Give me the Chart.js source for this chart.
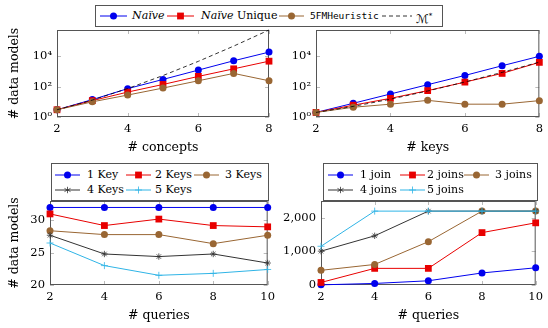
<!DOCTYPE html>
<html>
<head>
<meta charset="utf-8">
<script src="https://cdn.jsdelivr.net/npm/chart.js@4.4.1/dist/chart.umd.min.js"></script>
<style>
  body { margin: 0; width: 548px; height: 328px; position: relative; overflow: hidden; background: #fff; font-family: "DejaVu Serif", serif; }
  canvas { position: absolute; }
  .box { position: absolute; border: 1px solid #555; background: #fff; box-sizing: border-box; z-index: 2; }
  .lbl { position: absolute; font-size: 11px; line-height: 12px; height: 12px; white-space: nowrap; color: #000; z-index: 3; }
  .ico { position: absolute; z-index: 3; }
  .tt { font-family: "DejaVu Sans Mono", monospace; font-size: 9.5px; }
  .cal { font-family: "DejaVu Sans", sans-serif; font-size: 12px; }
</style>
</head>
<body>
<canvas id="concepts" width="280" height="160" style="left:0;top:0"></canvas>
<canvas id="keys" width="268" height="160" style="left:280px;top:0"></canvas>
<canvas id="qkeys" width="280" height="168" style="left:0;top:160px"></canvas>
<canvas id="qjoins" width="268" height="168" style="left:280px;top:160px"></canvas>
<script>
// top row: # data models vs # concepts / # keys (log scale)
const conceptCounts = [2, 3, 4, 5, 6, 7, 8];
const naiveConcepts = [3, 14, 74, 300, 1240, 5100, 19000];
const naiveUniqueConcepts = [3, 12, 44, 140, 475, 1500, 4800];
const heuristicConcepts = [3, 10, 28, 81, 245, 750, 245];
const mStarConcepts = [3, 13, 75, 541, 4683, 47293, 545835];

const keyCounts = [2, 3, 4, 5, 6, 7, 8];
const naiveKeys = [2, 8, 33, 135, 550, 2400, 10000];
const naiveUniqueKeys = [2, 6, 17, 55, 200, 750, 4000];
const heuristicKeys = [2, 4.4, 7, 12.5, 7, 7, 12];
const mStarKeys = [2, 5, 15, 52, 203, 877, 4140];

// bottom row: # data models vs # queries
const queryCounts = [2, 4, 6, 8, 10];
const oneKey = [32, 32, 32, 32, 32];
const twoKeys = [31, 29.2, 30.2, 29.2, 29.0];
const threeKeys = [28.4, 27.8, 27.8, 26.4, 27.7];
const fourKeys = [27.7, 24.8, 24.4, 24.8, 23.4];
const fiveKeys = [26.5, 23.0, 21.5, 21.8, 22.4];

const oneJoin = [5, 46, 125, 357, 510];
const twoJoins = [75, 493, 493, 1553, 1843];
const threeJoins = [435, 609, 1284, 2190, 2190];
const fourJoins = [1003, 1458, 2190, 2190, 2190];
const fiveJoins = [1148, 2190, 2190, 2190, 2190];

const topXTicks = [2, 4, 6, 8];
const queryTicks = [2, 4, 6, 8, 10];
const logTicks = [1, 100, 10000];
const logLabels = { 1: '10\u2070', 100: '10\u00b2', 10000: '10\u2074' };
const keyTicks = [20, 25, 30];
const joinTicks = [0, 1000, 2000];

const BLUE = '#0000ee', RED = '#e80000', BROWN = '#996633', DARK = '#333333', CYAN = '#2fb4e6';

Chart.defaults.font.family = '"DejaVu Serif", serif';
Chart.defaults.color = '#000';

// pgfplots-like box with inward tick marks
const frame = {
  id: 'frame',
  beforeDatasetsDraw(chart) {
    const { ctx, chartArea: a, scales: { x, y } } = chart;
    ctx.save();
    ctx.strokeStyle = '#aaa';
    ctx.lineWidth = 0.8;
    ctx.beginPath();
    x.ticks.forEach(t => {
      const p = Math.round(x.getPixelForValue(t.value)) + 0.5;
      ctx.moveTo(p, a.bottom); ctx.lineTo(p, a.bottom - 4);
      ctx.moveTo(p, a.top); ctx.lineTo(p, a.top + 4);
    });
    y.ticks.forEach(t => {
      const p = Math.round(y.getPixelForValue(t.value)) + 0.5;
      ctx.moveTo(a.left, p); ctx.lineTo(a.left + 4, p);
      ctx.moveTo(a.right, p); ctx.lineTo(a.right - 4, p);
    });
    ctx.stroke();
    ctx.strokeStyle = '#555';
    ctx.lineWidth = 1;
    ctx.strokeRect(a.left + 0.5, a.top + 0.5, a.right - a.left - 1, a.bottom - a.top - 1);
    ctx.restore();
  }
};

function lineChart(id, xs, series, o) {
  return new Chart(document.getElementById(id), {
    type: 'line',
    data: {
      datasets: series.map((s, i) => ({
        label: s.label,
        data: xs.map((x, j) => ({ x, y: s.data[j] })),
        borderColor: s.line || s.color,
        backgroundColor: s.color,
        pointBackgroundColor: s.color,
        pointBorderColor: s.color,
        borderWidth: s.width || 1,
        borderDash: s.dash || [],
        pointStyle: s.mark || 'circle',
        pointRadius: s.r ?? 3.5,
        pointBorderWidth: s.bw ?? 0,
        order: -i,
        clip: false
      }))
    },
    options: {
      responsive: false,
      animation: false,
      events: [],
      layout: { padding: { top: o.top, right: o.right, left: 0, bottom: 0 } },
      plugins: { legend: { display: false }, tooltip: { enabled: false } },
      scales: {
        x: {
          type: 'linear', min: xs[0], max: xs[xs.length - 1],
          afterBuildTicks: s => { s.ticks = o.xTicks.map(v => ({ value: v })); },
          afterFit: s => { s.height = o.xHeight; },
          grid: { display: false, drawTicks: false },
          border: { display: false },
          ticks: { padding: 5, font: { size: 11.5 }, callback: v => String(v) },
          title: { display: true, text: o.xTitle, font: { size: 12.5 }, padding: { top: 0, bottom: 5 } }
        },
        y: {
          type: o.yType, min: o.yMin, max: o.yMax,
          afterBuildTicks: s => { s.ticks = o.yTicks.map(v => ({ value: v })); },
          afterFit: s => { s.width = o.yWidth; },
          grid: { display: false, drawTicks: false },
          border: { display: false },
          ticks: { padding: 5, font: { size: 11.5 }, callback: o.yLabel },
          title: { display: !!o.yTitle, text: o.yTitle || '', font: { size: 12.5 }, padding: { top: 7, bottom: 0 } }
        }
      }
    },
    plugins: [frame]
  });
}

const topSeries = (naive, unique, heur, mstar) => [
  { label: 'Naive', data: naive, color: BLUE },
  { label: 'Naive Unique', data: unique, color: RED, mark: 'rect', r: 4.8 },
  { label: '5FMHeuristic', data: heur, color: BROWN },
  { label: 'M*', data: mstar, color: '#000', dash: [4, 3], r: 0, width: 0.8 }
];

lineChart('concepts', conceptCounts, topSeries(naiveConcepts, naiveUniqueConcepts, heuristicConcepts, mStarConcepts), {
  top: 30, right: 11, xHeight: 43, yWidth: 57, xTicks: topXTicks, xTitle: '# concepts',
  yType: 'logarithmic', yMin: 1, yMax: 545835, yTicks: logTicks, yLabel: v => logLabels[v], yTitle: '# data models'
});
lineChart('keys', keyCounts, topSeries(naiveKeys, naiveUniqueKeys, heuristicKeys, mStarKeys), {
  top: 30, right: 4, xHeight: 43, yWidth: 36, xTicks: topXTicks, xTitle: '# keys',
  yType: 'logarithmic', yMin: 1, yMax: 545835, yTicks: logTicks, yLabel: v => logLabels[v]
});

const keySeries = [
  { label: '1 Key', data: oneKey, color: BLUE },
  { label: '2 Keys', data: twoKeys, color: RED, mark: 'rect', r: 4.8 },
  { label: '3 Keys', data: threeKeys, color: BROWN },
  { label: '4 Keys', data: fourKeys, color: DARK, mark: 'star', r: 3.2, bw: 0.8 },
  { label: '5 Keys', data: fiveKeys, color: CYAN, mark: 'cross', r: 3.5, bw: 0.8 }
];
lineChart('qkeys', queryCounts, keySeries, {
  top: 41, right: 11, xHeight: 43, yWidth: 50, xTicks: queryTicks, xTitle: '# queries',
  yType: 'linear', yMin: 20, yMax: 33, yTicks: keyTicks, yLabel: v => String(v), yTitle: '# data models'
});

const joinSeries = [
  { label: '1 join', data: oneJoin, color: BLUE },
  { label: '2 joins', data: twoJoins, color: RED, mark: 'rect', r: 4.8 },
  { label: '3 joins', data: threeJoins, color: BROWN },
  { label: '4 joins', data: fourJoins, color: DARK, mark: 'star', r: 3.2, bw: 0.8 },
  { label: '5 joins', data: fiveJoins, color: CYAN, mark: 'cross', r: 3.5, bw: 0.8 }
];
lineChart('qjoins', queryCounts, joinSeries, {
  top: 41, right: 8, xHeight: 43, yWidth: 41, xTicks: queryTicks, xTitle: '# queries',
  yType: 'linear', yMin: 0, yMax: 2490, yTicks: joinTicks, yLabel: v => v.toLocaleString('en-US')
});

// legends
function icon(s, w) {
  const c = s.color, m = w / 2;
  let mark = '';
  if (s.mark === 'rect') mark = `<rect x="${m - 3.4}" y="1.6" width="6.8" height="6.8" fill="${c}"/>`;
  else if (s.mark === 'star') mark = `<path d="M${m} 1.8V8.2M${m - 3} 3.4L${m + 3} 6.6M${m - 3} 6.6L${m + 3} 3.4" stroke="${c}" stroke-width="0.8"/>`;
  else if (s.mark === 'cross') mark = `<path d="M${m} 1.5V8.5M${m - 3.5} 5H${m + 3.5}" stroke="${c}" stroke-width="0.8"/>`;
  else if (s.r !== 0) mark = `<circle cx="${m}" cy="5" r="3.5" fill="${c}"/>`;
  const dash = s.dash ? ` stroke-dasharray="${s.dash.join(' ')}"` : '';
  return `<svg class="ico" width="${w}" height="10"><line x1="0" y1="5" x2="${w}" y2="5" stroke="${c}" stroke-width="${s.width || 1}"${dash}/>${mark}</svg>`;
}
function legend(box, items) {
  let h = `<div class="box" style="left:${box[0]}px;top:${box[1]}px;width:${box[2]}px;height:${box[3]}px"></div>`;
  items.forEach(it => {
    h += icon(it.s, it.w).replace('class="ico"', `class="ico" style="left:${it.ix}px;top:${it.y - 5}px"`);
    h += `<div class="lbl" style="left:${it.tx}px;top:${it.y - 6}px">${it.text}</div>`;
  });
  document.body.insertAdjacentHTML('beforeend', h);
}
const ts = topSeries([], [], [], []);
legend([95, 5, 348, 22], [
  { s: ts[0], w: 27, ix: 100, tx: 132, y: 16, text: '<i>Na\u00efve</i>' },
  { s: ts[1], w: 27, ix: 167, tx: 201, y: 16, text: '<i>Na\u00efve</i> Unique' },
  { s: ts[2], w: 25, ix: 279, tx: 310, y: 16, text: '<span class="tt">5FMHeuristic</span>' },
  { s: ts[3], w: 30, ix: 382, tx: 416, y: 16, text: '<span class="cal">\u2133</span><sup style="font-size:7px">*</sup>' }
]);
legend([51, 163, 218, 38], [
  { s: keySeries[0], w: 25, ix: 55, tx: 87, y: 174.5, text: '1 Key' },
  { s: keySeries[1], w: 25, ix: 126, tx: 155, y: 174.5, text: '2 Keys' },
  { s: keySeries[2], w: 25, ix: 194, tx: 225, y: 174.5, text: '3 Keys' },
  { s: keySeries[3], w: 25, ix: 55, tx: 87, y: 190, text: '4 Keys' },
  { s: keySeries[4], w: 25, ix: 126, tx: 155, y: 190, text: '5 Keys' }
]);
legend([323, 163, 215, 38], [
  { s: joinSeries[0], w: 25, ix: 328, tx: 360, y: 174.5, text: '1 join' },
  { s: joinSeries[1], w: 25, ix: 400, tx: 427, y: 174.5, text: '2 joins' },
  { s: joinSeries[2], w: 25, ix: 464, tx: 495, y: 174.5, text: '3 joins' },
  { s: joinSeries[3], w: 25, ix: 328, tx: 360, y: 190, text: '4 joins' },
  { s: joinSeries[4], w: 25, ix: 400, tx: 427, y: 190, text: '5 joins' }
]);
</script>
</body>
</html>
